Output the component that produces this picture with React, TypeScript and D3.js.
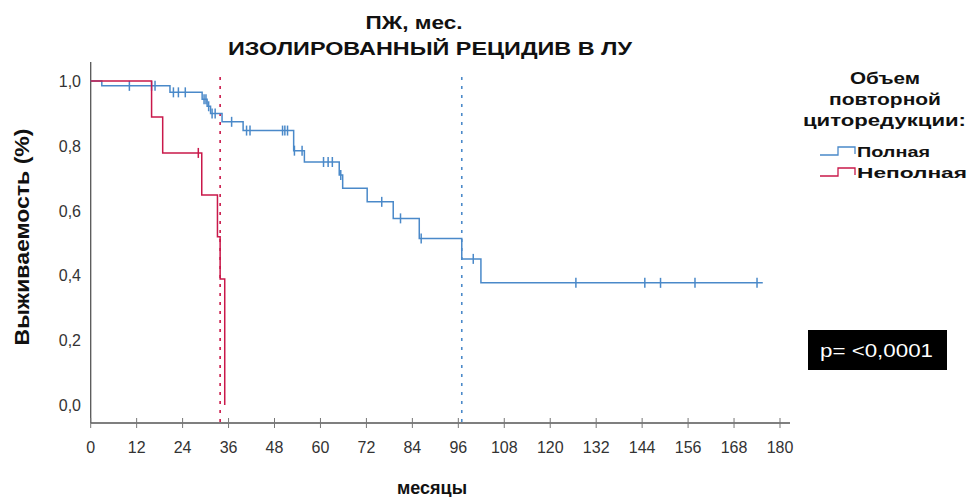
import React from "react";
import * as d3 from "d3";

// ---------- data ----------
const xTicks = [0, 12, 24, 36, 48, 60, 72, 84, 96, 108, 120, 132, 144, 156, 168, 180];
const yTicks = [0, 0.2, 0.4, 0.6, 0.8, 1.0];
const yTickLabels = ["0,0", "0,2", "0,4", "0,6", "0,8", "1,0"];

// "Полная" (complete) – event times and survival after each step
const fullTimes = [0, 2.9, 20.7, 29.1, 30.4, 31.3, 34.3, 39.8, 53.0, 55.8, 64.9, 65.8, 72.2, 79.0, 85.8, 96.9, 101.9];
const fullSurv = [1, 0.985, 0.965, 0.944, 0.922, 0.9, 0.874, 0.847, 0.785, 0.75, 0.71, 0.669, 0.627, 0.576, 0.514, 0.451, 0.377];
const fullEnd = 175.5;
const fullCensor = [10.1, 15.9, 16.8, 21.6, 22.9, 24.7, 29.6, 30.1, 30.8, 31.7, 32.5, 36.8, 40.7, 41.6, 50.1, 50.7, 51.4,
  53.2, 55.2, 60.8, 62.0, 63.1, 65.3, 76.0, 80.9, 86.3, 99.9, 126.7, 144.7, 148.8, 157.8, 174.0];

// "Неполная" (incomplete)
const partTimes = [0, 15.9, 18.8, 29.0, 33.1, 33.8, 35.0];
const partSurv = [1, 0.889, 0.778, 0.648, 0.519, 0.389, 0];
const partEnd = 35.0;
const partCensor = [28.1];

const seriesNames = ["Полная", "Неполная"];
const seriesColors = ["#4a89c9", "#c9184a"];

const FONT = "'Liberation Sans', Arial, sans-serif";

type Pt = [number, number];

function survAt(times: number[], surv: number[], t: number) {
  let s = surv[0];
  for (let i = 0; i < times.length; i++) if (times[i] <= t) s = surv[i];
  return s;
}
function median(times: number[], surv: number[]) {
  for (let i = 0; i < times.length; i++) if (surv[i] <= 0.5) return times[i];
  return null;
}

function T(props: any) {
  const { len, children, ...rest } = props;
  return (
    <text fontFamily={FONT} textLength={len} lengthAdjust="spacingAndGlyphs" {...rest}>
      {children}
    </text>
  );
}

export default function App() {
  const W = 969, H = 497;
  const x = d3.scaleLinear().domain([0, 180]).range([90.7, 780]);
  const y = d3.scaleLinear().domain([0, 1]).range([405, 81]);
  const axisY = 423;

  const line = d3.line<Pt>().x(d => x(d[0])).y(d => y(d[1])).curve(d3.curveStepAfter);

  const series = [
    { times: fullTimes, surv: fullSurv, end: fullEnd, censor: fullCensor, color: seriesColors[0] },
    { times: partTimes, surv: partSurv, end: partEnd, censor: partCensor, color: seriesColors[1] },
  ];

  return (
    <svg width={W} height={H} style={{ position: "absolute", left: 0, top: 0, background: "#fff" }}>
      <rect x={0} y={0} width={W} height={H} fill="#fff" />
      {/* title */}
      <T x={414} y={29} textAnchor="middle" fontSize={19} fontWeight="bold" len={97} fill="#111">ПЖ, мес.</T>
      <T x={430} y={55} textAnchor="middle" fontSize={19} fontWeight="bold" len={404} fill="#111">ИЗОЛИРОВАННЫЙ РЕЦИДИВ В ЛУ</T>

      {/* median lines */}
      {series.map((s, i) => {
        const m = median(s.times, s.surv);
        if (m == null) return null;
        return (
          <line key={"m" + i} x1={x(m)} x2={x(m)} y1={y(1) - 4} y2={axisY} stroke={s.color}
            strokeWidth={1.6} strokeDasharray="3,6" />
        );
      })}

      {/* axes */}
      <line x1={x(0)} x2={x(0)} y1={62} y2={axisY} stroke="#555" strokeWidth={1.3} />
      <line x1={x(0)} x2={790} y1={axisY} y2={axisY} stroke="#555" strokeWidth={1.3} />
      {xTicks.map(t => (
        <g key={"xt" + t}>
          <line x1={x(t)} x2={x(t)} y1={axisY - 5} y2={axisY + 5} stroke="#777" strokeWidth={1} />
          <text x={x(t)} y={453} textAnchor="middle" fontFamily={FONT} fontSize={16} fill="#333">{t}</text>
        </g>
      ))}
      {yTicks.map((v, i) => (
        <text key={"yt" + i} x={81} y={y(v) + 6} textAnchor="end" fontFamily={FONT} fontSize={16} fill="#333">
          {yTickLabels[i]}
        </text>
      ))}

      {/* curves */}
      {series.map((s, i) => {
        const pts: Pt[] = s.times.map((t, j) => [t, s.surv[j]] as Pt);
        if (s.end > s.times[s.times.length - 1]) pts.push([s.end, s.surv[s.surv.length - 1]]);
        return (
          <g key={"s" + i}>
            <path d={line(pts) || ""} fill="none" stroke={s.color} strokeWidth={1.5} />
            {s.censor.map((c, k) => {
              const v = survAt(s.times, s.surv, c);
              return <line key={k} x1={x(c)} x2={x(c)} y1={y(v) - 5} y2={y(v) + 5} stroke={s.color} strokeWidth={1.5} />;
            })}
          </g>
        );
      })}

      {/* axis titles */}
      <T transform="translate(29,237) rotate(-90)" x={0} y={0} textAnchor="middle" fontSize={20} fontWeight="bold" len={217} fill="#111">
        Выживаемость (%)
      </T>
      <T x={432} y={494} textAnchor="middle" fontSize={19} fontWeight="bold" len={70} fill="#111">месяцы</T>

      {/* legend */}
      <T x={885} y={84} textAnchor="middle" fontSize={16} fontWeight="bold" len={70} fill="#111">Объем</T>
      <T x={885} y={105} textAnchor="middle" fontSize={16} fontWeight="bold" len={112} fill="#111">повторной</T>
      <T x={884.5} y={126} textAnchor="middle" fontSize={16} fontWeight="bold" len={163} fill="#111">циторедукции:</T>
      {seriesNames.map((n, i) => {
        const cy = 152 + i * 21;
        return (
          <g key={"lg" + i}>
            <path d={`M820,${cy + 3}H838V${cy - 5}H855V${cy + 2}`} fill="none" stroke={seriesColors[i]} strokeWidth={1.3} />
            <T x={857} y={cy + 5} fontSize={15} fontWeight="bold" len={i === 0 ? 73 : 110} fill="#111">{n}</T>
          </g>
        );
      })}

      {/* p-value */}
      <rect x={808} y={330} width={139} height={40} fill="#000" />
      <T x={820} y={357} fontSize={18} len={113} fill="#fff">p= &lt;0,0001</T>
    </svg>
  );
}
